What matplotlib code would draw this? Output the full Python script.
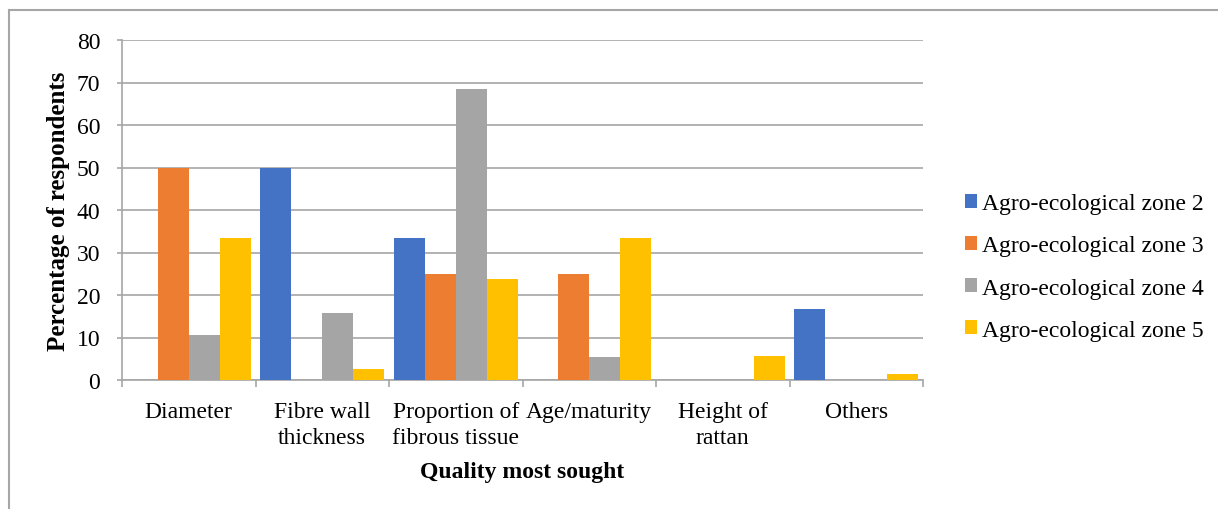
import numpy as np
import matplotlib
matplotlib.use("Agg")
import matplotlib.pyplot as plt
from matplotlib.lines import Line2D
from matplotlib.patches import Patch

categories = ["Diameter", "Fibre wall\nthickness", "Proportion of\nfibrous tissue",
              "Age/maturity", "Height of\nrattan", "Others"]
zones = ["Agro-ecological zone 2", "Agro-ecological zone 3",
         "Agro-ecological zone 4", "Agro-ecological zone 5"]
zone2 = [0, 50, 33.3, 0, 0, 16.7]
zone3 = [50, 0, 25, 25, 0, 0]
zone4 = [10.5, 15.8, 68.4, 5.3, 0, 0]
zone5 = [33.3, 2.6, 23.7, 33.3, 5.6, 1.3]
colors = ["#4472c4", "#ed7d31", "#a5a5a5", "#ffc000"]

plt.rcParams['font.family'] = ['Liberation Serif', 'DejaVu Serif']
fs = 17

fig = plt.figure(figsize=(12.18, 5.1), dpi=100)
ax = fig.add_axes([122/1218, 1-381/510, 801/1218, 340/510])

x = np.arange(len(categories))
w = 0.232
for i, vals in enumerate([zone2, zone3, zone4, zone5]):
    ax.bar(x + (i - 1.5) * w, vals, w, color=colors[i], zorder=3, label=zones[i])

ax.set_xlim(-0.5, len(categories) - 0.5)
ax.set_ylim(0, 80)
ax.set_yticks(range(0, 81, 10))
ax.yaxis.grid(True, color="#a6a6a6", linewidth=1.2, zorder=0)
ax.tick_params(axis='y', labelsize=fs, length=3.6, color="#a6a6a6", width=1.2, pad=12)

ax.set_xticks(x)
ax.set_xticklabels(categories, fontsize=fs, linespacing=1.35)
ax.tick_params(axis='x', which='major', length=0, pad=15)
ax.set_xticks(np.arange(-0.5, len(categories)), minor=True)
ax.tick_params(axis='x', which='minor', length=5, color="#a6a6a6", width=1.2)

for s in ["top", "right"]:
    ax.spines[s].set_visible(False)
for s in ["left", "bottom"]:
    ax.spines[s].set_color("#a6a6a6")
    ax.spines[s].set_linewidth(1.2)

ax.set_ylabel("Percentage of respondents", fontsize=18, fontweight='bold', labelpad=5)
ax.set_xlabel("Quality most sought", fontsize=fs, fontweight='bold', labelpad=9)

handles = [Patch(facecolor=c) for c in colors]
fig.legend(handles, zones, loc='center left', bbox_to_anchor=(944/1218, 1-268/510),
           frameon=False, fontsize=fs, handlelength=0.5, handleheight=0.5,
           handletextpad=0.23, labelspacing=0.89)

# outer chart border
fig.add_artist(Line2D([9/1218, 1], [1-11/510, 1-11/510], color="#a6a6a6", linewidth=1.5))
fig.add_artist(Line2D([9/1218, 9/1218], [0, 1-11/510], color="#a6a6a6", linewidth=1.5))

fig.savefig("out.png", dpi=100)
